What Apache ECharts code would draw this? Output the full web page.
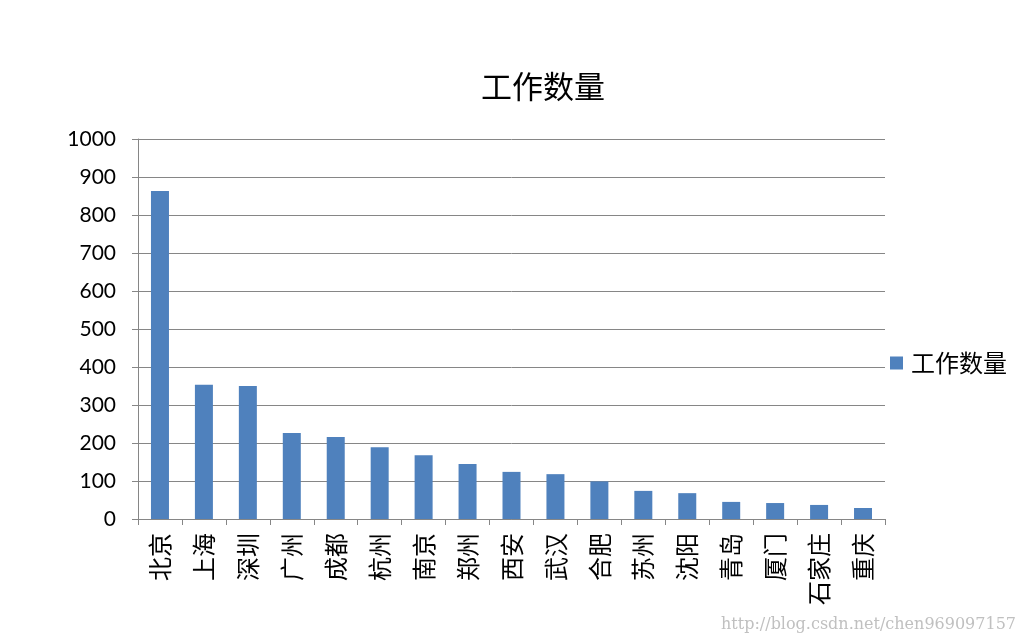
<!DOCTYPE html>
<html><head><meta charset="utf-8">
<script src="https://cdn.jsdelivr.net/npm/echarts@6/dist/echarts.min.js"></script>
<style>html,body{margin:0;padding:0;background:#fff}#c{width:1026px;height:643px}</style>
</head><body><div id="c"></div>
<script>
const categories = ['北京','上海','深圳','广州','成都','杭州','南京','郑州','西安','武汉','合肥','苏州','沈阳','青岛','厦门','石家庄','重庆'];
const jobCounts = [863, 353, 350, 226, 216, 189, 168, 145, 124, 118, 99, 74, 68, 45, 42, 37, 29];
const yTicks = [0, 100, 200, 300, 400, 500, 600, 700, 800, 900, 1000];
const seriesName = '工作数量';

const chart = echarts.init(document.getElementById('c'));
chart.setOption({
  backgroundColor: '#fff',
  animation: false,
  title: {
    text: seriesName, left: 538, top: 66, textAlign: 'center',
    textStyle: { fontFamily: 'Noto Sans CJK SC', fontSize: 31, fontWeight: 'normal', color: '#000' }
  },
  legend: {
    left: 885, top: 346, orient: 'vertical',
    icon: 'rect', itemWidth: 13, itemHeight: 13,
    textStyle: { fontFamily: 'Noto Sans CJK SC', fontSize: 24, color: '#000', padding: [0, 0, 0, 3] },
    data: [seriesName]
  },
  grid: { left: 138, right: 141, top: 139, bottom: 124 },
  xAxis: {
    type: 'category', data: categories,
    axisLine: { lineStyle: { color: '#868686', width: 1 } },
    axisTick: { show: true, alignWithLabel: false, length: 6, lineStyle: { color: '#868686' } },
    axisLabel: { rotate: 90, interval: 0, margin: 14, fontFamily: 'Noto Sans CJK SC', fontSize: 24, color: '#000' }
  },
  yAxis: {
    type: 'value', min: yTicks[0], max: yTicks[yTicks.length - 1], interval: 100,
    axisLine: { show: true, lineStyle: { color: '#868686', width: 1 } },
    axisTick: { show: true, inside: false, length: 6, lineStyle: { color: '#868686' } },
    splitLine: { lineStyle: { color: '#868686', width: 1 } },
    axisLabel: { margin: 22, fontFamily: 'Lato', fontSize: 21, color: '#000', formatter: v => String(v) }
  },
  series: [{
    name: seriesName, type: 'bar', data: jobCounts, barWidth: 18,
    itemStyle: { color: '#4F81BD' }
  }],
  graphic: [{
    type: 'text', right: 10, bottom: 10,
    style: { text: 'http://blog.csdn.net/chen969097157', fill: '#c0c0c0', font: '16px "DejaVu Serif"' }
  }]
});
</script></body></html>
